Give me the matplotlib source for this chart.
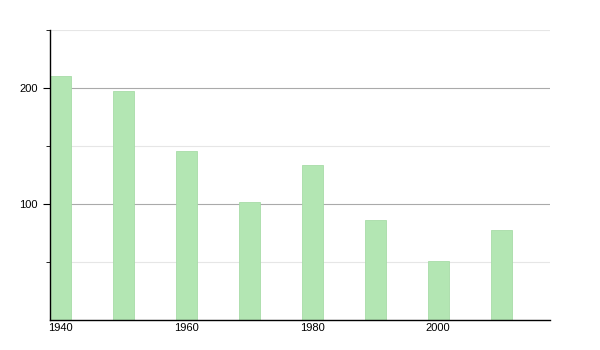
import matplotlib.pyplot as plt

plt.rcParams['font.family'] = ['Liberation Sans', 'DejaVu Sans']

years  = [1940, 1950, 1960, 1970, 1980, 1990, 2000, 2010]
values = [210, 197, 146, 102, 134, 86, 51, 78]
tick_years = [1940, 1960, 1980, 2000]

BAR_W = 3.3

fig = plt.figure(figsize=(6, 3.5), dpi=100)
ax = fig.add_axes([50/600, 30/350, 500/600, 290/350])

ax.bar(years, values, width=BAR_W, align='edge',
       color='#b3e6b3', edgecolor='#a8dca8', linewidth=0.6, zorder=2)

ax.set_xlim(1940, 2019.4)
ax.set_ylim(0, 250)

ax.grid(axis='y', which='major', color='#aaaaaa', linewidth=0.8, zorder=1)
ax.grid(axis='y', which='minor', color='#e6e6e6', linewidth=0.8, zorder=1)
ax.set_yticks([100, 200])
ax.set_yticks([50, 150, 250], minor=True)

ax.set_xticks([y + BAR_W / 2 for y in tick_years])
ax.set_xticklabels([str(y) for y in tick_years])

for s in ['top', 'right']:
    ax.spines[s].set_visible(False)
ax.spines['left'].set_linewidth(1.0)
ax.spines['bottom'].set_linewidth(1.0)

ax.tick_params(axis='x', length=0, labelsize=8, pad=2)
ax.tick_params(axis='y', which='major', length=5, labelsize=8, pad=4)
ax.tick_params(axis='y', which='minor', length=3)

fig.savefig('out.png', dpi=100, facecolor='white')
